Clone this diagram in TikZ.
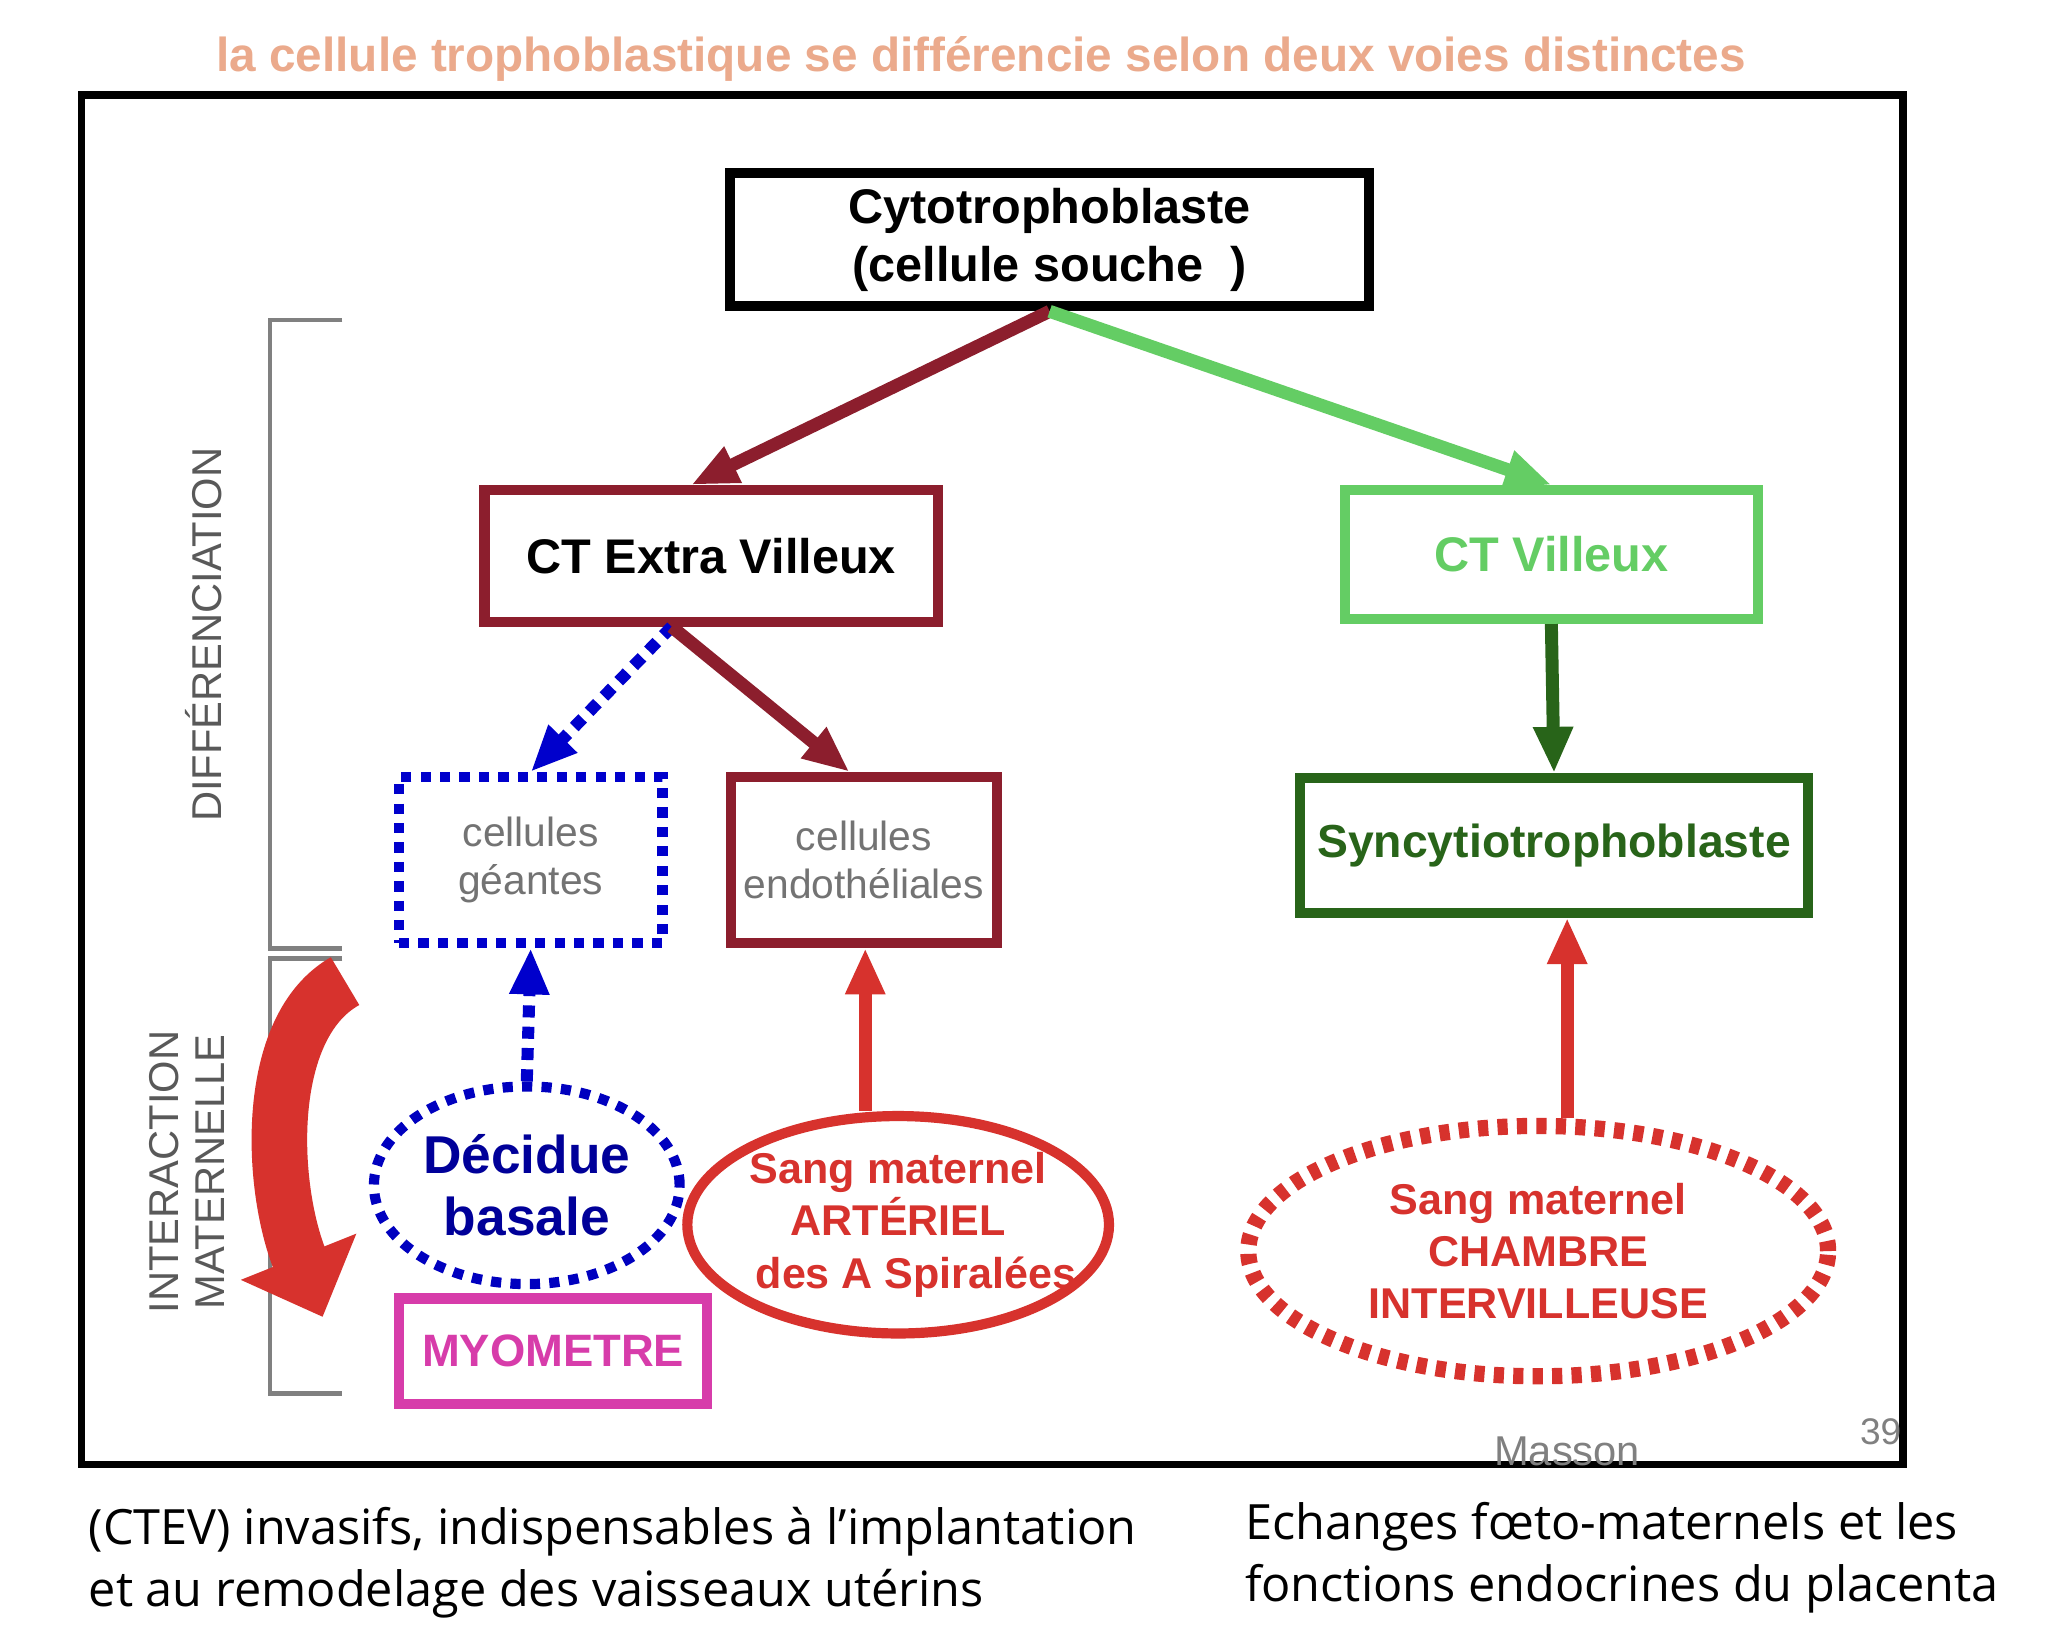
\documentclass[tikz,border=0pt]{standalone}
\usepackage{fontspec}
\setmainfont{Liberation Sans}
\newfontfamily\bodyfont{Open Sans}
\usetikzlibrary{arrows.meta,shapes}

\definecolor{darkred}{RGB}{140,30,45}
\definecolor{lightgreen}{RGB}{100,205,100}
\definecolor{darkgreen}{RGB}{40,100,25}
\definecolor{bloodred}{RGB}{215,50,45}
\definecolor{titleorange}{RGB}{235,170,140}
\definecolor{myopink}{RGB}{215,60,170}

\begin{document}
\begin{tikzpicture}[x=0.01cm,y=-0.01cm,>={Triangle[length=10pt,width=8pt]},
                    box/.style={draw,line width=2.2pt,inner sep=0pt,font=\bfseries\fontsize{10.5}{12.5}\selectfont,align=center},
                    small/.style={draw,line width=2.2pt,inner sep=0pt,font=\fontsize{8.8}{10.5}\selectfont,align=center,text=gray!90!black},
                    blob/.style={ellipse,line width=2.2pt,inner sep=0pt,font=\bfseries\fontsize{9.3}{11.3}\selectfont,align=center},
                    link/.style={->,line width=2.8pt}]
  \useasboundingbox[fill=white] (0,0) rectangle (1568,1240);

  \node[font=\bfseries\fontsize{10.3}{13}\selectfont,text=titleorange] (title) at (745,45)
    {la cellule trophoblastique se différencie selon deux voies distinctes};
  \draw[line width=1.6pt] (62,72) rectangle (1445,1112);

  \node[box,minimum width=4.85cm,minimum height=1.01cm] (cyto) at (797,182) {Cytotrophoblaste\\(cellule souche~~)};
  \node[box,draw=darkred,minimum width=3.44cm,minimum height=1cm] (ctev) at (540,422) {CT Extra Villeux};
  \node[box,draw=lightgreen,text=lightgreen,minimum width=3.13cm,minimum height=0.98cm] (ctv) at (1178,421) {CT Villeux};
  \node[small,draw=blue!80!black,dotted,minimum width=2cm,minimum height=1.26cm] (geantes) at (403,653) {cellules\\géantes};
  \node[small,draw=darkred,minimum width=2.02cm,minimum height=1.26cm] (endo) at (656,653) {cellules\\endothéliales};
  \node[box,draw=darkgreen,text=darkgreen,minimum width=3.86cm,minimum height=1.02cm,font=\bfseries\fontsize{10}{12}\selectfont] (syncytio) at (1180,642) {Syncytiotrophoblaste};

  \node[blob,draw=blue!75!black,dotted,text=blue!60!black,minimum width=2.32cm,minimum height=1.5cm,inner sep=-6pt,font=\bfseries\fontsize{11.5}{13.5}\selectfont] (decidue) at (400,900) {Décidue\\basale};
  \node[box,draw=myopink,text=myopink,minimum width=2.34cm,minimum height=0.8cm,font=\bfseries\fontsize{9.8}{12}\selectfont] (myo) at (420,1026) {MYOMETRE};
  \node[blob,draw=bloodred,text=bloodred,minimum width=3.2cm,minimum height=1.65cm,inner sep=-8pt] (arteriel) at (682,930) {Sang maternel\\ARTÉRIEL\\~~~des A Spiralées};
  \node[blob,draw=bloodred,dotted,line width=3.5pt,text=bloodred,minimum width=4.4cm,minimum height=1.9cm,inner sep=-6pt] (chambre) at (1168,950) {Sang maternel\\CHAMBRE\\INTERVILLEUSE};

  \path[link] (cyto.south) edge[darkred] (ctev.north -| 525,0)
              (cyto.south) edge[lightgreen] (ctv.north)
              (ctev.south -| 510,0) edge[blue!80!black,dotted,line width=2.6pt] (geantes.north)
              (ctev.south -| 510,0) edge[darkred] (endo.north -| 645,0)
              (ctv.south) edge[darkgreen] (syncytio.north)
              (decidue.north) edge[blue!80!black,dotted,line width=2.6pt] (geantes.south)
              (arteriel.north -| 657,0) edge[bloodred] (endo.south -| 657,0)
              (chambre.north -| 1190,0) edge[bloodred] (syncytio.south -| 1190,0);

  % bracket and side labels
  \draw[gray,line width=1pt] (260,243) -- (205,243) -- (205,720) -- (260,720)
                             (260,728) -- (205,728) -- (205,1058) -- (260,1058);
  \node[rotate=90,font=\fontsize{9}{11}\selectfont,text=gray!70!black] (diff) at (155,482) {DIFFÉRENCIATION};
  \node[rotate=90,font=\fontsize{9}{10}\selectfont,align=center,text=gray!70!black] (inter) at (142,890) {INTERACTION\\MATERNELLE};
  \coordinate (cs) at (262,745);
  \coordinate (ce) at (245,1000);
  \draw[bloodred,line width=12pt,-{Triangle[length=14pt,width=26pt]}] (cs) .. controls (200,780) and (205,900) .. (ce);

  \node[text=gray,font=\fontsize{9}{11}\selectfont] (masson) at (1190,1102) {Masson};
  \node[text=gray,font=\fontsize{8}{10}\selectfont] (page) at (1428,1087) {39};

  \node[anchor=north west,align=left,font=\bodyfont\fontsize{10.5}{13.5}\selectfont] (left) at (55,1132)
    {(CTEV) invasifs, indispensables à l’implantation\\et au remodelage des vaisseaux utérins};
  \node[anchor=north west,align=left,font=\bodyfont\fontsize{10.5}{13.5}\selectfont] (right) at (933,1128)
    {Echanges fœto-maternels et les\\fonctions endocrines du placenta};
\end{tikzpicture}
\end{document}
